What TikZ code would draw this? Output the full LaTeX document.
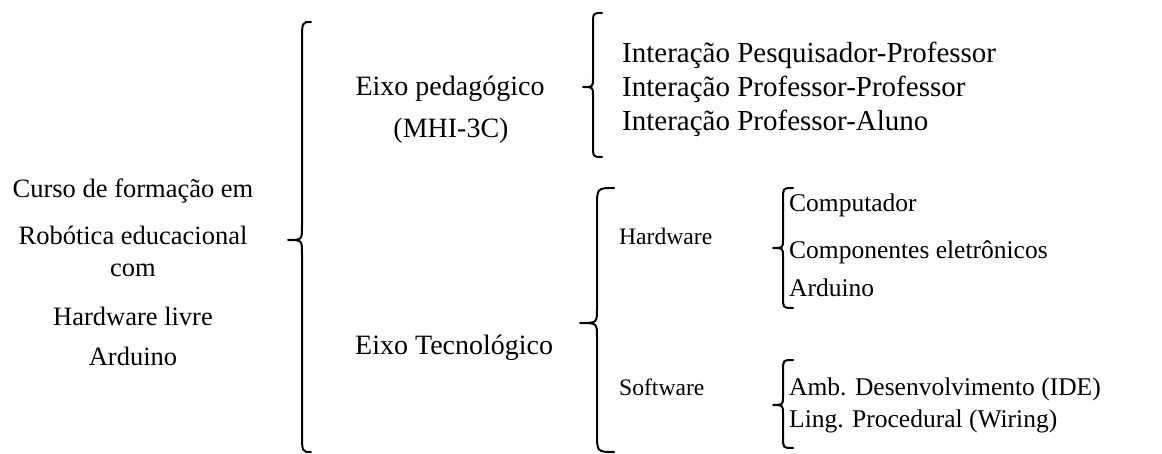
\documentclass[tikz,border=0pt]{standalone}
\usepackage{fontspec}
\setmainfont{Liberation Serif}
\begin{document}
\begin{tikzpicture}[x=1pt,y=-1pt,
  lbl/.style={inner sep=0pt,anchor=base},
  lft/.style={lbl,font=\fontsize{26.5}{30}\selectfont},
  eixo/.style={lbl,font=\fontsize{28}{32}\selectfont},
  inter/.style={lbl,anchor=base west,font=\fontsize{29}{32}\selectfont},
  sub/.style={lbl,anchor=base west,font=\fontsize{23.6}{28}\selectfont},
  item/.style={lbl,anchor=base west,font=\fontsize{25.5}{30}\selectfont},
  bracepath/.style={line width=2pt,line cap=round,line join=round}]
\useasboundingbox (0,0) rectangle (1162,454);
% left texts
\node[lft] (l1) at (133,198) {Curso de formação em};
\node[lft] (l2) at (133,245) {Robótica educacional};
\node[lft] (l3) at (133,277) {com};
\node[lft] (l4) at (133,326) {Hardware livre};
\node[lft] (l5) at (133,365) {Arduino};
% eixos
\node[eixo] (ep) at (450,96) {Eixo pedagógico};
\node[eixo] (mhi) at (451,138) {(MHI-3C)};
\node[eixo,anchor=base west] (et) at (355,355) {Eixo Tecnológico};
% interacoes
\node[inter] (i1) at (622,63) {Interação Pesquisador-Professor};
\node[inter] (i2) at (622,97) {Interação Professor-Professor};
\node[inter] (i3) at (622,131) {Interação Professor-Aluno};
% hardware/software
\node[sub] (hw) at (619,245) {Hardware};
\node[sub] (sw) at (619,395) {Software};
\node[item] (c1) at (789,212) {Computador};
\node[item] (c2) at (789,259) {Componentes eletrônicos};
\node[item] (c3) at (789,297) {Arduino};
\node[item] (s1) at (789,395) {Amb. Desenvolvimento (IDE)};
\node[item] (s2) at (789,427) {Ling. Procedural (Wiring)};
% braces: end x, spine x, tip x, top, mid, bottom, end radius, mid radius
\newcommand{\mybrace}[8]{%
  \draw[bracepath] (#1,#4) .. controls (#2,#4) .. (#2,#4+#7) -- (#2,#5-#8)
    .. controls (#2,#5) .. (#3,#5) .. controls (#2,#5) .. (#2,#5+#8)
    -- (#2,#6-#7) .. controls (#2,#6) .. (#1,#6);}
\mybrace{311}{302}{288}{22}{240}{452}{20}{14}
\mybrace{602}{593}{583}{13}{87}{157}{12}{9}
\mybrace{614}{597}{580}{188}{323}{452}{20}{14}
\mybrace{793}{783}{773}{188}{248}{308}{11}{9}
\mybrace{793}{783}{773}{360}{405}{448}{11}{9}
\end{tikzpicture}
\end{document}
